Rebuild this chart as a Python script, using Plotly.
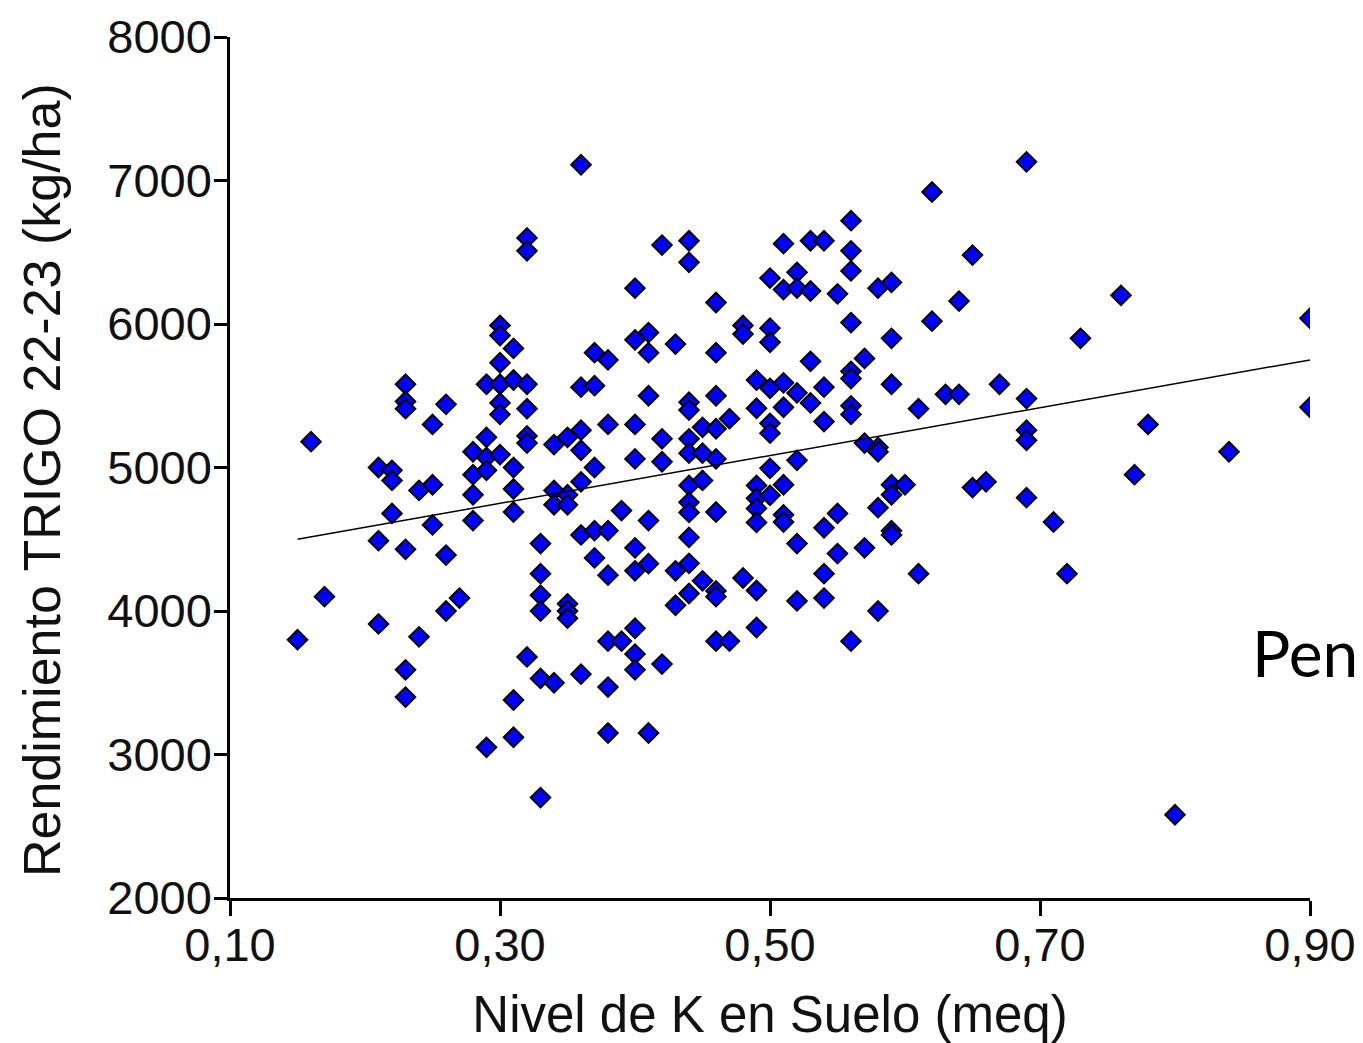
import plotly.graph_objects as go

# K level in soil (meq) and wheat yield (kg/ha)
k_levels = {
    0.15: [3800],
    0.16: [5180],
    0.17: [4100],
    0.21: [5000, 4490, 3910],
    0.22: [4980, 4910, 4680],
    0.23: [5580, 5460, 5410, 4430, 3590, 3400],
    0.24: [4840, 3820],
    0.25: [5300, 4880, 4600],
    0.26: [5440, 4390, 4000],
    0.27: [4090],
    0.28: [5110, 4950, 4810, 4630],
    0.29: [5580, 5210, 5070, 4980, 3050],
    0.30: [5990, 5920, 5730, 5580, 5450, 5370, 5090],
    0.31: [5830, 5610, 5000, 4850, 4690, 3380, 3120],
    0.32: [6600, 6510, 5580, 5410, 5220, 5170, 3680],
    0.33: [4470, 4260, 4110, 4000, 3530, 2700],
    0.34: [5160, 4840, 4740, 3500],
    0.35: [5210, 4810, 4740, 4050, 4000, 3950],
    0.36: [7110, 5560, 5260, 5120, 4900, 4530, 3560],
    0.37: [5800, 5570, 5000, 4560, 4370],
    0.38: [5750, 5300, 4560, 4250, 3790, 3470, 3150],
    0.39: [4700, 3790],
    0.40: [6250, 5890, 5300, 5060, 4440, 4280, 3880, 3700, 3590],
    0.41: [5940, 5800, 5500, 4630, 4330, 3150],
    0.42: [6550, 5200, 5040, 3630],
    0.43: [5860, 4280, 4040],
    0.44: [6580, 6430, 5455, 5400, 5200, 5100, 4875, 4757, 4687, 4513, 4332, 4122],
    0.45: [5280, 5100, 4910, 4210],
    0.46: [6150, 5800, 5500, 5270, 5060, 4690, 4140, 4100, 3790],
    0.47: [5340, 3790],
    0.48: [5990, 5930, 4230],
    0.49: [5609, 5413, 4875, 4785, 4715, 4617, 4143, 3885],
    0.50: [6320, 5971, 5873, 5552, 5308, 5239, 4994, 4806],
    0.51: [6560, 6240, 5590, 5420, 4880, 4670, 4620],
    0.52: [6360, 6250, 5520, 5050, 4470, 4070],
    0.53: [6580, 6230, 5740, 5450],
    0.54: [6580, 5560, 5320, 4580, 4260, 4090],
    0.55: [6210, 4680, 4400],
    0.56: [6720, 6510, 6370, 6010, 5670, 5620, 5430, 5370, 3790],
    0.57: [5760, 5170, 4440],
    0.58: [6250, 5140, 5110, 4720, 4000],
    0.59: [6290, 5900, 5580, 4880, 4810, 4560, 4530],
    0.60: [4880],
    0.61: [5410, 4260],
    0.62: [6920, 6020],
    0.63: [5510],
    0.64: [6160, 5510],
    0.65: [6480, 4860],
    0.66: [4900],
    0.67: [5580],
    0.69: [7130, 5480, 5260, 5190, 4790],
    0.71: [4620],
    0.72: [4260],
    0.73: [5900],
    0.76: [6200],
    0.77: [4950],
    0.78: [5300],
    0.80: [2580],
    0.84: [5110],
    0.90: [6040, 5420],
}

k_suelo = [k for k, ys in k_levels.items() for _ in ys]
rendimiento = [y for ys in k_levels.values() for y in ys]

# regression line end points as drawn in the chart
trend_x = [0.15, 0.90]
trend_y = [4500, 5750]

x_ticks = [0.10, 0.30, 0.50, 0.70, 0.90]
x_tick_labels = ["0,10", "0,30", "0,50", "0,70", "0,90"]
y_ticks = [2000, 3000, 4000, 5000, 6000, 7000, 8000]

FONT = "Arial, Liberation Sans, sans-serif"

fig = go.Figure()
fig.add_trace(go.Scatter(
    x=k_suelo, y=rendimiento, mode="markers",
    marker=dict(symbol="diamond", size=15, color="#0000FF",
                line=dict(color="black", width=2)),
    showlegend=False))
fig.add_trace(go.Scatter(
    x=trend_x, y=trend_y, mode="lines",
    line=dict(color="black", width=1.5), showlegend=False))

# page body has an 8px margin, so the figure is 8px smaller than the window
fig.update_layout(
    width=1355, height=1035,
    margin=dict(l=222, r=53, t=29, b=145, autoexpand=False),
    paper_bgcolor="white", plot_bgcolor="white",
    font=dict(family=FONT, size=47, color="#111111"),
    xaxis=dict(range=[0.10, 0.90], tickvals=x_ticks, ticktext=x_tick_labels,
               showgrid=False, zeroline=False, showline=True, linecolor="black",
               linewidth=2.5, ticks="outside", ticklen=15, tickwidth=2.5,
               tickcolor="black", tickfont=dict(size=47), ticklabelstandoff=-11,
               automargin=False,
               title=dict(text="Nivel de K en Suelo (meq)", standoff=33,
                          font=dict(size=51))),
    yaxis=dict(range=[2000, 8000], tickvals=y_ticks,
               showgrid=False, zeroline=False, showline=True, linecolor="black",
               linewidth=2.5, ticks="outside", ticklen=13, tickwidth=2.5,
               tickcolor="black", tickfont=dict(size=47), ticklabelstandoff=-7,
               automargin=False),
)

fig.add_annotation(text="Rendimiento TRIGO 22-23 (kg/ha)", xref="paper", yref="paper",
                   x=-0.174, y=0.4855, xanchor="center", yanchor="middle",
                   textangle=-90, showarrow=False,
                   font=dict(family=FONT, size=52, color="#111111"))

fig.add_annotation(text="Pen", xref="paper", yref="paper", x=0.944, y=0.285,
                   xanchor="left", yanchor="middle", showarrow=False,
                   font=dict(family="Lato, Carlito, Calibri, sans-serif",
                             size=64, color="black"))

fig.write_html("out.html")
